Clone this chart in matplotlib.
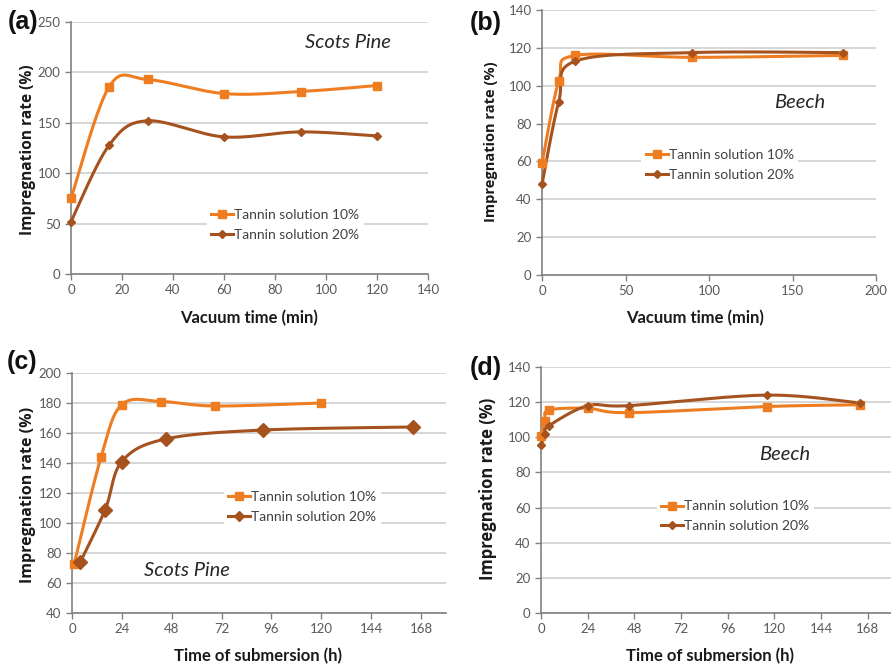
import numpy as np
import matplotlib.pyplot as plt

# (a) Scots pine, vacuum time
a_x = [0, 15, 30, 60, 90, 120]
a_10 = [75, 186, 193, 179, 181, 187]
a_20 = [52, 128, 152, 136, 141, 137]

# (b) Beech, vacuum time
b_x = [0, 10, 20, 90, 180]
b_10 = [59, 102.5, 116, 115, 116]
b_20 = [48, 91.5, 113, 117.5, 117.5]

# (c) Scots pine, submersion
c_x10 = [1, 14, 24, 43, 69, 120]
c_10 = [72.5, 144, 179, 181, 178, 180]
c_x20 = [4, 16, 24, 45, 92, 164]
c_20 = [74, 109, 141, 156, 162, 164]

# (d) Beech, submersion
d_x = [0, 2, 4, 24, 45, 116, 164]
d_10 = [101, 109.5, 115.5, 116.5, 114, 117.5, 118.5]
d_20 = [95.5, 102, 106.5, 118, 118, 124, 119.5]

label10 = "Tannin solution 10%"
label20 = "Tannin solution 20%"

ORANGE = "#EE7D22"
BROWN = "#A5521E"
GRID = "#D0D0D0"
SPINE = "#808080"
TICKC = "#595959"

plt.rcParams['font.family'] = ['Lato', 'DejaVu Sans']


def smooth(ax, x, y, n=30):
    # excel-like smoothed line (catmull-rom in screen space)
    pts = ax.transData.transform(np.column_stack([x, y]))
    p = np.vstack([pts[0], pts, pts[-1]])
    out = []
    for i in range(1, len(p) - 2):
        p0, p1, p2, p3 = p[i - 1], p[i], p[i + 1], p[i + 2]
        c1 = p1 + (p2 - p0) / 6.0
        c2 = p2 - (p3 - p1) / 6.0
        t = np.linspace(0, 1, n)[:, None]
        seg = ((1 - t) ** 3) * p1 + 3 * ((1 - t) ** 2) * t * c1 + 3 * (1 - t) * t ** 2 * c2 + t ** 3 * p2
        out.append(seg)
    out = np.vstack(out)
    d = ax.transData.inverted().transform(out)
    return d[:, 0], d[:, 1]


def setup(ax, xlim, xticks, ylim, yticks):
    ax.set_xlim(*xlim)
    ax.set_ylim(*ylim)
    ax.set_xticks(xticks)
    ax.set_yticks(yticks)
    for s in ['top', 'right']:
        ax.spines[s].set_visible(False)
    for s in ['left', 'bottom']:
        ax.spines[s].set_color(SPINE)
        ax.spines[s].set_linewidth(1.2)
    ax.yaxis.grid(True, color=GRID, lw=1.2)
    ax.set_axisbelow(True)
    ax.tick_params(colors=SPINE, labelcolor=TICKC, labelsize=9.5, length=4, width=1)


def series(ax, x, y, color, marker, ms, label):
    sx, sy = smooth(ax, x, y)
    ax.plot(sx, sy, color=color, lw=2.2, zorder=3, clip_on=False)
    ax.plot(x, y, ls='none', marker=marker, ms=ms, color=color, zorder=4, clip_on=False)
    ax.plot([], [], color=color, lw=2.2, marker=marker, ms=min(ms, 5.5), label=label)


def legend(ax, fx, fy):
    leg = ax.legend(loc='center', bbox_to_anchor=(fx, fy), bbox_transform=fig.transFigure,
                    frameon=True, fancybox=False, edgecolor='none', facecolor='white', framealpha=1,
                    fontsize=10, handlelength=1.6, handletextpad=0.1, labelspacing=0.55,
                    borderpad=0.3, borderaxespad=0)
    for t in leg.get_texts():
        t.set_color("#404040")
    leg.set_zorder(5)


def labels(ax, xlab, xc, yc_top, ylab, ysize, yx, yc):
    ax.set_xlabel(xlab, fontsize=12, fontweight='bold', color='#1a1a1a')
    ax.xaxis.set_label_coords(xc, yc_top)
    ax.set_ylabel(ylab, fontsize=ysize, fontweight='bold', color='#1a1a1a',
                  family=['Open Sans', 'DejaVu Sans'])
    ax.yaxis.set_label_coords(yx, yc)


fig = plt.figure(figsize=(8.91, 6.67), dpi=100)

ax_a = fig.add_axes([71 / 891, 1 - 274 / 667, (428 - 71) / 891, (274 - 22) / 667])
ax_b = fig.add_axes([542 / 891, 1 - 275 / 667, (876 - 542) / 891, (275 - 10) / 667])
ax_c = fig.add_axes([72 / 891, 1 - 613 / 667, (446 - 72) / 891, (613 - 373) / 667])
ax_d = fig.add_axes([541 / 891, 1 - 613 / 667, (891 - 541) / 891, (613 - 367) / 667])

setup(ax_a, (0, 140), range(0, 141, 20), (0, 250), range(0, 251, 50))
setup(ax_b, (0, 200), range(0, 201, 50), (0, 140), range(0, 141, 20))
setup(ax_c, (0, 180), range(0, 169, 24), (40, 200), range(40, 201, 20))
setup(ax_d, (0, 180), range(0, 169, 24), (0, 140), range(0, 141, 20))

series(ax_a, a_x, a_10, ORANGE, 's', 5.5, label10)
series(ax_a, a_x, a_20, BROWN, 'D', 4, label20)
series(ax_b, b_x, b_10, ORANGE, 's', 5.5, label10)
series(ax_b, b_x, b_20, BROWN, 'D', 4, label20)
series(ax_c, c_x10, c_10, ORANGE, 's', 5.5, label10)
series(ax_c, c_x20, c_20, BROWN, 'D', 7.5, label20)
series(ax_d, d_x, d_10, ORANGE, 's', 5.5, label10)
series(ax_d, d_x, d_20, BROWN, 'D', 4, label20)

legend(ax_a, 0.320, 0.663)
legend(ax_b, 0.808, 0.753)
legend(ax_c, 0.339, 0.240)
legend(ax_d, 0.825, 0.226)

labels(ax_a, "Vacuum time (min)", 0.5, -0.143, "Impregnation rate (%)", 11.2, -0.098, 0.492)
labels(ax_b, "Vacuum time (min)", 0.458, -0.132, "Impregnation rate (%)", 10.5, -0.132, 0.502)
labels(ax_c, "Time of submersion (h)", 0.497, -0.146, "Impregnation rate (%)", 11.5, -0.096, 0.492)
labels(ax_d, "Time of submersion (h)", 0.483, -0.142, "Impregnation rate (%)", 12, -0.126, 0.504)

wood = dict(fontsize=14.5, style='italic', color='#262626', ha='center', va='center')
fig.text(0.391, 0.936, "Scots Pine", **wood)
fig.text(0.897, 0.846, "Beech", **wood)
fig.text(0.210, 0.145, "Scots Pine", **wood)
fig.text(0.880, 0.319, "Beech", **wood)

panel = dict(fontsize=18, fontweight='bold', ha='center', va='center',
             family=['Liberation Sans', 'DejaVu Sans'], color='#111111')
fig.text(0.026, 0.967, "(a)", **panel)
fig.text(0.545, 0.966, "(b)", **panel)
fig.text(0.025, 0.457, "(c)", **panel)
fig.text(0.545, 0.448, "(d)", **panel)

fig.savefig("out.png", dpi=100)
